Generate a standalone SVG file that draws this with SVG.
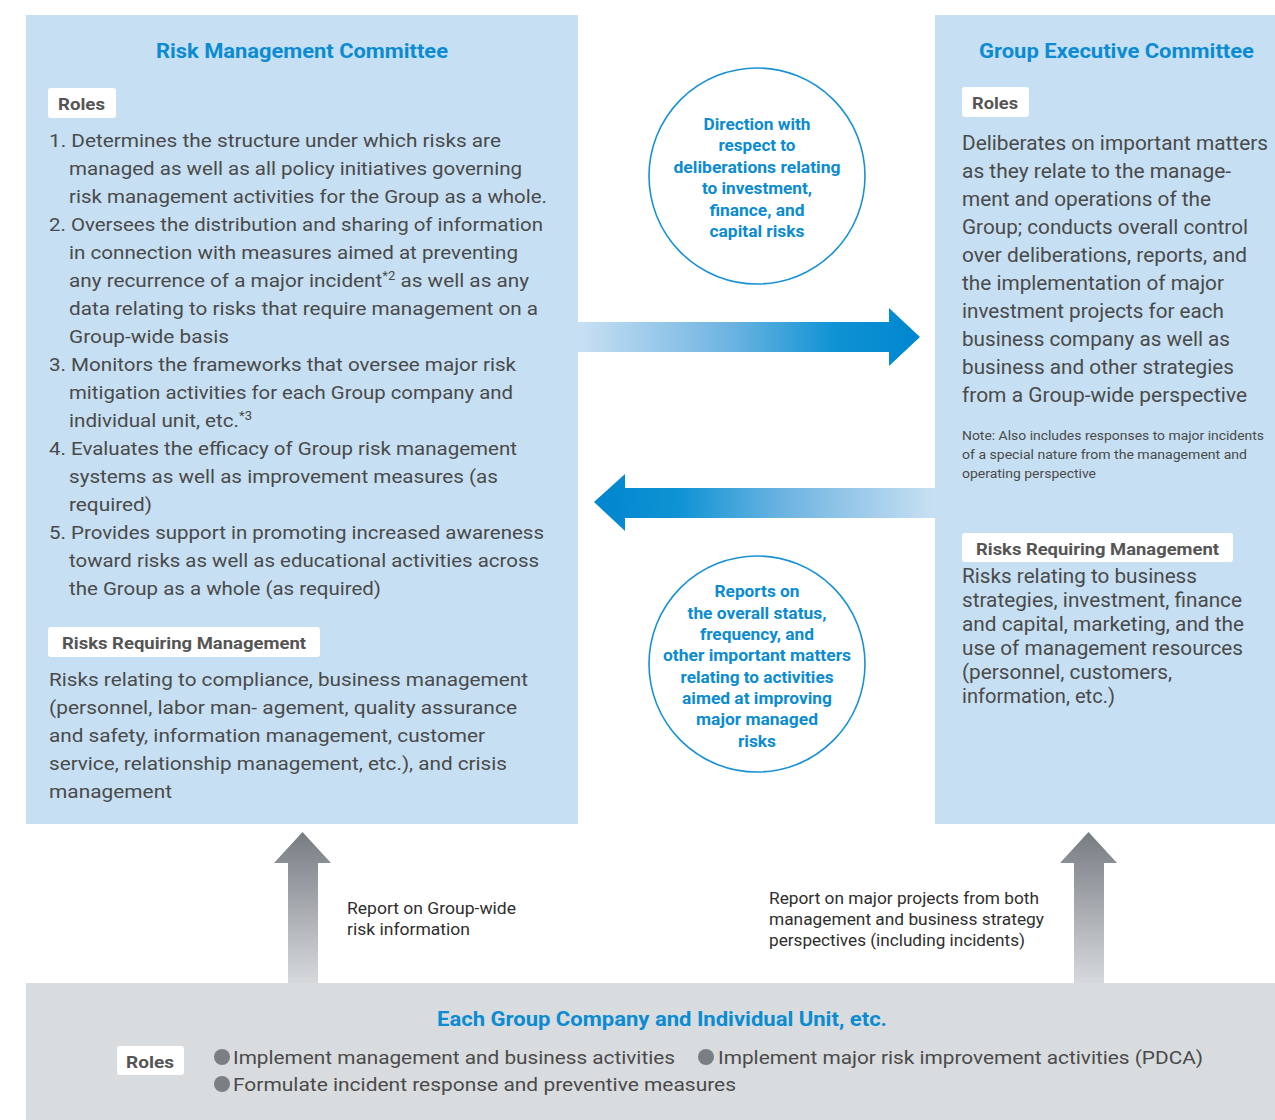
<svg xmlns="http://www.w3.org/2000/svg" width="1275" height="1120" viewBox="0 0 1275 1120">
<defs>
<linearGradient id="gR" gradientUnits="userSpaceOnUse" x1="578" y1="0" x2="920" y2="0">
<stop offset="0" stop-color="#c9e0f3"/><stop offset="0.45" stop-color="#6cb3e1"/><stop offset="0.75" stop-color="#0f93d4"/><stop offset="1" stop-color="#0086cf"/>
</linearGradient>
<linearGradient id="gL" gradientUnits="userSpaceOnUse" x1="935" y1="0" x2="594" y2="0">
<stop offset="0" stop-color="#c9e0f3"/><stop offset="0.45" stop-color="#6cb3e1"/><stop offset="0.75" stop-color="#0f93d4"/><stop offset="1" stop-color="#0086cf"/>
</linearGradient>
<linearGradient id="gV" x1="0" y1="0" x2="0" y2="1">
<stop offset="0" stop-color="#777c83"/><stop offset="1" stop-color="#d6d9dc"/>
</linearGradient>
</defs>
<style>
.panel{fill:#c6dff2}
.bottom{fill:#d9dcdf}
.title{font-family:Roboto,"Liberation Sans",sans-serif;font-weight:700;font-size:20px;fill:#0b8bd1}
.tag{fill:#ffffff}
.tagt{font-family:Roboto,"Liberation Sans",sans-serif;font-weight:700;font-size:17px;fill:#555555}
.body{font-family:Roboto,"Liberation Sans",sans-serif;font-size:19px;fill:#4a4a4a}
.bodyr{font-family:Roboto,"Liberation Sans",sans-serif;font-size:20px;fill:#4a4a4a}
.note{font-family:Roboto,"Liberation Sans",sans-serif;font-size:12.5px;fill:#4a4a4a}
.circ{fill:#ffffff;stroke:#1a90d6;stroke-width:1.6}
.ct{font-family:Roboto,"Liberation Sans",sans-serif;font-weight:700;font-size:16px;fill:#0b8bd1;text-anchor:middle}
.lbl{font-family:Roboto,"Liberation Sans",sans-serif;font-size:16px;fill:#2e2e2e}
.sup{font-size:12px}
.dot{fill:#7b7e83}
</style>

<g id="risk-management-committee">
<rect class="panel" x="26" y="15" width="552" height="809"/>
<text class="title" x="156" y="58" textLength="292" lengthAdjust="spacingAndGlyphs">Risk Management Committee</text>
<rect class="tag" x="48" y="88" width="68" height="30" rx="3"/>
<text class="tagt" x="58" y="110" textLength="47" lengthAdjust="spacingAndGlyphs">Roles</text>
<text class="body" x="49" y="147" textLength="452" lengthAdjust="spacingAndGlyphs">1. Determines the structure under which risks are</text>
<text class="body" x="69" y="175" textLength="453" lengthAdjust="spacingAndGlyphs">managed as well as all policy initiatives governing</text>
<text class="body" x="69" y="203" textLength="478" lengthAdjust="spacingAndGlyphs">risk management activities for the Group as a whole.</text>
<text class="body" x="49" y="231" textLength="494" lengthAdjust="spacingAndGlyphs">2. Oversees the distribution and sharing of information</text>
<text class="body" x="69" y="259" textLength="449" lengthAdjust="spacingAndGlyphs">in connection with measures aimed at preventing</text>
<text class="body" x="69" y="287" textLength="460" lengthAdjust="spacingAndGlyphs">any recurrence of a major incident<tspan class="sup" dy="-7">*2</tspan><tspan dy="7"> as well as any</tspan></text>
<text class="body" x="69" y="315" textLength="469" lengthAdjust="spacingAndGlyphs">data relating to risks that require management on a</text>
<text class="body" x="69" y="343" textLength="160" lengthAdjust="spacingAndGlyphs">Group-wide basis</text>
<text class="body" x="49" y="371" textLength="467" lengthAdjust="spacingAndGlyphs">3. Monitors the frameworks that oversee major risk</text>
<text class="body" x="69" y="399" textLength="444" lengthAdjust="spacingAndGlyphs">mitigation activities for each Group company and</text>
<text class="body" x="69" y="427" textLength="183" lengthAdjust="spacingAndGlyphs">individual unit, etc.<tspan class="sup" dy="-7">*3</tspan></text>
<text class="body" x="49" y="455" textLength="468" lengthAdjust="spacingAndGlyphs">4. Evaluates the efficacy of Group risk management</text>
<text class="body" x="69" y="483" textLength="429" lengthAdjust="spacingAndGlyphs">systems as well as improvement measures (as</text>
<text class="body" x="69" y="511" textLength="83" lengthAdjust="spacingAndGlyphs">required)</text>
<text class="body" x="49" y="539" textLength="495" lengthAdjust="spacingAndGlyphs">5. Provides support in promoting increased awareness</text>
<text class="body" x="69" y="567" textLength="470" lengthAdjust="spacingAndGlyphs">toward risks as well as educational activities across</text>
<text class="body" x="69" y="595" textLength="312" lengthAdjust="spacingAndGlyphs">the Group as a whole (as required)</text>
<rect class="tag" x="48" y="627" width="272" height="30" rx="3"/>
<text class="tagt" x="62" y="649" textLength="244" lengthAdjust="spacingAndGlyphs">Risks Requiring Management</text>
<text class="body" x="49" y="686" textLength="479" lengthAdjust="spacingAndGlyphs">Risks relating to compliance, business management</text>
<text class="body" x="49" y="714" textLength="468" lengthAdjust="spacingAndGlyphs">(personnel, labor man- agement, quality assurance</text>
<text class="body" x="49" y="742" textLength="436" lengthAdjust="spacingAndGlyphs">and safety, information management, customer</text>
<text class="body" x="49" y="770" textLength="458" lengthAdjust="spacingAndGlyphs">service, relationship management, etc.), and crisis</text>
<text class="body" x="49" y="798" textLength="123" lengthAdjust="spacingAndGlyphs">management</text>
</g>

<g id="group-executive-committee">
<rect class="panel" x="935" y="15" width="340" height="809"/>
<text class="title" x="979" y="58" textLength="275" lengthAdjust="spacingAndGlyphs">Group Executive Committee</text>
<rect class="tag" x="962" y="87" width="67" height="30" rx="3"/>
<text class="tagt" x="972" y="109" textLength="46" lengthAdjust="spacingAndGlyphs">Roles</text>
<text class="bodyr" x="962" y="150" textLength="306" lengthAdjust="spacingAndGlyphs">Deliberates on important matters</text>
<text class="bodyr" x="962" y="178" textLength="269" lengthAdjust="spacingAndGlyphs">as they relate to the manage-</text>
<text class="bodyr" x="962" y="206" textLength="249" lengthAdjust="spacingAndGlyphs">ment and operations of the</text>
<text class="bodyr" x="962" y="234" textLength="286" lengthAdjust="spacingAndGlyphs">Group; conducts overall control</text>
<text class="bodyr" x="962" y="262" textLength="285" lengthAdjust="spacingAndGlyphs">over deliberations, reports, and</text>
<text class="bodyr" x="962" y="290" textLength="262" lengthAdjust="spacingAndGlyphs">the implementation of major</text>
<text class="bodyr" x="962" y="318" textLength="262" lengthAdjust="spacingAndGlyphs">investment projects for each</text>
<text class="bodyr" x="962" y="346" textLength="268" lengthAdjust="spacingAndGlyphs">business company as well as</text>
<text class="bodyr" x="962" y="374" textLength="272" lengthAdjust="spacingAndGlyphs">business and other strategies</text>
<text class="bodyr" x="962" y="402" textLength="285" lengthAdjust="spacingAndGlyphs">from a Group-wide perspective</text>
<text class="note" x="962" y="440" textLength="302" lengthAdjust="spacingAndGlyphs">Note: Also includes responses to major incidents</text>
<text class="note" x="962" y="459" textLength="285" lengthAdjust="spacingAndGlyphs">of a special nature from the management and</text>
<text class="note" x="962" y="478" textLength="134" lengthAdjust="spacingAndGlyphs">operating perspective</text>
<rect class="tag" x="962" y="533" width="271" height="29" rx="3"/>
<text class="tagt" x="976" y="555" textLength="243" lengthAdjust="spacingAndGlyphs">Risks Requiring Management</text>
<text class="bodyr" x="962" y="583" textLength="235" lengthAdjust="spacingAndGlyphs">Risks relating to business</text>
<text class="bodyr" x="962" y="607" textLength="280" lengthAdjust="spacingAndGlyphs">strategies, investment, finance</text>
<text class="bodyr" x="962" y="631" textLength="282" lengthAdjust="spacingAndGlyphs">and capital, marketing, and the</text>
<text class="bodyr" x="962" y="655" textLength="281" lengthAdjust="spacingAndGlyphs">use of management resources</text>
<text class="bodyr" x="962" y="679" textLength="210" lengthAdjust="spacingAndGlyphs">(personnel, customers,</text>
<text class="bodyr" x="962" y="703" textLength="153" lengthAdjust="spacingAndGlyphs">information, etc.)</text>
</g>

<g id="each-group-company">
<rect class="bottom" x="26" y="983" width="1249" height="137"/>
<text class="title" x="437" y="1026" textLength="450" lengthAdjust="spacingAndGlyphs">Each Group Company and Individual Unit, etc.</text>
<rect class="tag" x="117" y="1046" width="67" height="29" rx="3"/>
<text class="tagt" x="126" y="1068" textLength="48" lengthAdjust="spacingAndGlyphs">Roles</text>
<circle class="dot" cx="222" cy="1057" r="8"/>
<text class="body" x="233" y="1064" textLength="442" lengthAdjust="spacingAndGlyphs">Implement management and business activities</text>
<circle class="dot" cx="706" cy="1057" r="8"/>
<text class="body" x="718" y="1064" textLength="485" lengthAdjust="spacingAndGlyphs">Implement major risk improvement activities (PDCA)</text>
<circle class="dot" cx="222" cy="1084" r="8"/>
<text class="body" x="233" y="1091" textLength="503" lengthAdjust="spacingAndGlyphs">Formulate incident response and preventive measures</text>
</g>

<g id="circle-direction">
<circle class="circ" cx="757" cy="176" r="108"/>
<text class="ct" x="757" y="130" textLength="107" lengthAdjust="spacingAndGlyphs">Direction with</text>
<text class="ct" x="757" y="151" textLength="77" lengthAdjust="spacingAndGlyphs">respect to</text>
<text class="ct" x="757" y="173" textLength="167" lengthAdjust="spacingAndGlyphs">deliberations relating</text>
<text class="ct" x="757" y="194" textLength="110" lengthAdjust="spacingAndGlyphs">to investment,</text>
<text class="ct" x="757" y="216" textLength="95" lengthAdjust="spacingAndGlyphs">finance, and</text>
<text class="ct" x="757" y="237" textLength="95" lengthAdjust="spacingAndGlyphs">capital risks</text>
</g>

<g id="circle-reports">
<circle class="circ" cx="757" cy="664" r="108"/>
<text class="ct" x="757" y="597" textLength="85" lengthAdjust="spacingAndGlyphs">Reports on</text>
<text class="ct" x="757" y="619" textLength="139" lengthAdjust="spacingAndGlyphs">the overall status,</text>
<text class="ct" x="757" y="640" textLength="114" lengthAdjust="spacingAndGlyphs">frequency, and</text>
<text class="ct" x="757" y="661" textLength="188" lengthAdjust="spacingAndGlyphs">other important matters</text>
<text class="ct" x="757" y="683" textLength="153" lengthAdjust="spacingAndGlyphs">relating to activities</text>
<text class="ct" x="757" y="704" textLength="150" lengthAdjust="spacingAndGlyphs">aimed at improving</text>
<text class="ct" x="757" y="725" textLength="122" lengthAdjust="spacingAndGlyphs">major managed</text>
<text class="ct" x="757" y="747" textLength="38" lengthAdjust="spacingAndGlyphs">risks</text>
</g>

<g id="connectors">
<polygon fill="url(#gR)" points="578,322 889,322 889,308 920,337 889,366 889,352 578,352"/>
<polygon fill="url(#gL)" points="935,488 625,488 625,474 594,502 625,531 625,518 935,518"/>
<polygon fill="url(#gV)" points="288,983 288,863 274,863 302.5,832 331,863 318,863 318,983"/>
<polygon fill="url(#gV)" points="1074,983 1074,863 1060,863 1088.5,832 1117,863 1104,863 1104,983"/>
<text class="lbl" x="347" y="914" textLength="169" lengthAdjust="spacingAndGlyphs">Report on Group-wide</text>
<text class="lbl" x="347" y="935" textLength="123" lengthAdjust="spacingAndGlyphs">risk information</text>
<text class="lbl" x="769" y="904" textLength="270" lengthAdjust="spacingAndGlyphs">Report on major projects from both</text>
<text class="lbl" x="769" y="925" textLength="275" lengthAdjust="spacingAndGlyphs">management and business strategy</text>
<text class="lbl" x="769" y="946" textLength="256" lengthAdjust="spacingAndGlyphs">perspectives (including incidents)</text>
</g>
</svg>
